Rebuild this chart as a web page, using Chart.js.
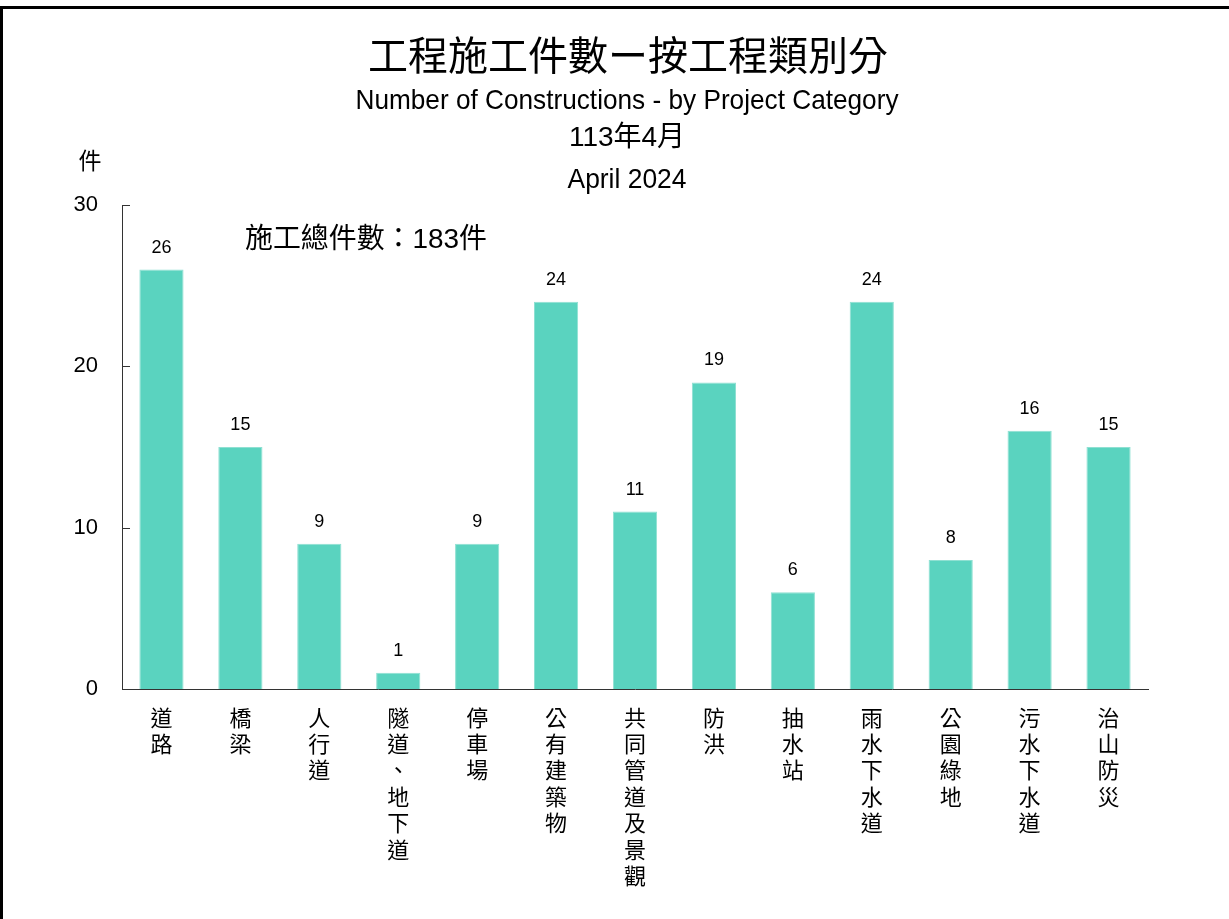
<!DOCTYPE html>
<html>
<head>
<meta charset="utf-8">
<script src="https://cdn.jsdelivr.net/npm/chart.js@4"></script>
<style>
  html, body { margin: 0; padding: 0; background: #fff; overflow: hidden; }
  #frame { position: absolute; left: 0; top: 6px; width: 1300px; height: 1000px;
           border-top: 3px solid #000; border-left: 3px solid #000; box-sizing: border-box; }
  canvas { position: absolute; left: 0; top: 0; }
</style>
</head>
<body>
<div id="frame"></div>
<canvas id="chart" width="1229" height="919"></canvas>
<script>
const categories = ['道路', '橋梁', '人行道', '隧道、地下道', '停車場', '公有建築物', '共同管道及景觀',
  '防洪', '抽水站', '雨水下水道', '公園綠地', '污水下水道', '治山防災'];
const counts = [26, 15, 9, 1, 9, 24, 11, 19, 6, 24, 8, 16, 15];
const yTicks = [0, 10, 20, 30];
const titleMain = '工程施工件數ー按工程類別分';
const subtitleLines = ['Number of Constructions - by Project Category', '113年4月', 'April 2024'];
const unitLabel = '件';
const totalNote = '施工總件數：183件';

const latin = "'Liberation Sans Narrow', 'Liberation Sans', 'Noto Sans CJK TC'";
const cjk = "'Noto Sans CJK TC', 'Noto Sans CJK JP'";

// titles, unit and total note (maxWidth squeezes text to the narrow look)
const textPlugin = {
  id: 'texts',
  afterDraw(chart) {
    const ctx = chart.ctx;
    ctx.save();
    ctx.fillStyle = '#000';
    ctx.textAlign = 'center';
    ctx.textBaseline = 'middle';
    ctx.font = '40px ' + cjk;
    ctx.fillText(titleMain, 628, 55, 540);
    ctx.font = '28px ' + latin;
    ctx.fillText(subtitleLines[0], 627, 101, 543);
    ctx.fillText(subtitleLines[1], 627, 138, 120);
    ctx.fillText(subtitleLines[2], 627, 180, 119);
    ctx.font = '23px ' + cjk;
    ctx.fillText(unitLabel, 90, 160);
    ctx.textAlign = 'left';
    ctx.font = '28px ' + latin;
    ctx.fillText(totalNote, 245, 240, 242);
    ctx.restore();
  }
};

// small inward ticks on the y axis
const yTickPlugin = {
  id: 'yTickMarks',
  afterDraw(chart) {
    const ctx = chart.ctx;
    const y = chart.scales.y;
    const x0 = chart.chartArea.left;
    ctx.save();
    ctx.strokeStyle = '#333';
    ctx.lineWidth = 1;
    yTicks.forEach(v => {
      if (v === 0) return;
      const py = Math.round(y.getPixelForValue(v)) + 0.5;
      ctx.beginPath();
      ctx.moveTo(x0, py);
      ctx.lineTo(x0 + 8, py);
      ctx.stroke();
    });
    ctx.restore();
  }
};

// value labels above the bars
const valuePlugin = {
  id: 'values',
  afterDatasetsDraw(chart) {
    const ctx = chart.ctx;
    const meta = chart.getDatasetMeta(0);
    ctx.save();
    ctx.fillStyle = '#000';
    ctx.font = '18px ' + latin;
    ctx.textAlign = 'center';
    ctx.textBaseline = 'alphabetic';
    meta.data.forEach((bar, i) => {
      ctx.fillText(String(counts[i]), bar.x, bar.y - 17);
    });
    ctx.restore();
  }
};

new Chart(document.getElementById('chart'), {
  type: 'bar',
  data: {
    labels: categories.map(c => c.split('')),
    datasets: [{
      data: counts,
      backgroundColor: '#5AD3BF',
      borderColor: '#8FE0D2',
      borderWidth: 1,
      categoryPercentage: 1,
      barPercentage: 0.56
    }]
  },
  options: {
    responsive: false,
    animation: false,
    layout: { padding: { left: 62, right: 81, top: 205, bottom: 0 } },
    plugins: {
      legend: { display: false },
      tooltip: { enabled: false }
    },
    scales: {
      x: {
        grid: { display: false, drawTicks: false },
        border: { display: true, color: '#333', width: 1 },
        ticks: {
          color: '#000',
          font: { family: cjk, size: 22, lineHeight: 1.2 },
          padding: 15,
          maxRotation: 0,
          autoSkip: false
        },
        afterFit(scale) { scale.height = 230; }
      },
      y: {
        min: 0,
        max: 30,
        grid: { display: false, drawTicks: false },
        border: { display: true, color: '#333', width: 1 },
        ticks: {
          color: '#000',
          font: { family: latin, size: 22 },
          padding: 24,
          callback: v => yTicks.includes(v) ? String(v) : null,
          stepSize: 10
        },
        afterFit(scale) { scale.width = 60; }
      }
    }
  },
  plugins: [textPlugin, yTickPlugin, valuePlugin]
});
</script>
</body>
</html>
